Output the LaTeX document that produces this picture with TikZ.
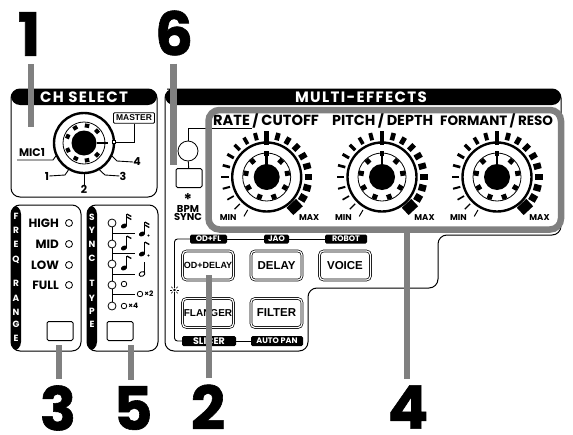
\documentclass[tikz,border=0pt]{standalone}
\usepackage{fontspec}
\setmainfont{Poppins}
\newfontfamily\narrowfont{Liberation Sans}
\newfontfamily\numfont[BoldFeatures={FakeBold=1}]{Poppins}
\usetikzlibrary{positioning}
\newcommand{\fs}[1]{\fontsize{#1}{#1}\selectfont\bfseries}
\newcommand{\narrowfs}[1]{\fontsize{#1}{#1}\selectfont\narrowfont\bfseries}
% x, y, number of flags
\newcommand{\flagnote}[3]{%
  \fill[rotate around={25:(#1,#2)}] (#1,#2) ellipse (3.2 and 2.3);
  \draw[line width=0.9pt] (#1+2.8,#2) -- (#1+2.8,#2-12);
  \foreach \fl in {1,...,#3} {\draw[line width=1.3pt] (#1+2.8,#2-15+3*\fl) -- ++(4.5,2.5);}
}
\tikzset{
  panel/.style={draw, line width=1pt, rounded corners=9pt, fill=white, inner sep=0pt},
  sidebar/.style={path picture={\fill[black] (path picture bounding box.north west) rectangle ([xshift=10pt]path picture bounding box.south west);}},
  topbar/.style={path picture={\fill[black] (path picture bounding box.north west) rectangle ([yshift=-16pt]path picture bounding box.north east);}},
  headtext/.style={text=white, font=\fs{15}\addfontfeature{LetterSpace=9}, inner sep=0pt},
  sidetext/.style={text=white, font=\fs{9}, inner sep=0pt},
  led/.style={draw, circle, line width=0.8pt, fill=white, minimum size=#1, inner sep=0pt},
  led/.default=7pt,
  pushbtn/.style={draw, line width=1pt, rounded corners=1.5pt, fill=white, minimum width=26pt, minimum height=19pt, inner sep=0pt},
  fxbtn/.style={draw, double, double distance=1.2pt, line width=0.7pt, rounded corners=4pt, fill=white, minimum width=51pt, minimum height=29pt, inner sep=0pt, font=\narrowfs{11.5}},
  tag/.style={fill=black, rounded corners=1.5pt, text=white, minimum height=9pt, inner sep=0pt, font=\fs{8}},
  rowtext/.style={inner sep=0pt, font=\fs{12}},
  chtext/.style={inner sep=0pt, font=\fs{11}},
  scaletext/.style={inner sep=0pt, font=\fs{8.5}},
  knobtext/.style={inner sep=0pt, font=\fs{#1}},
  ring/.style={draw, circle, line width=2.4pt, fill=white, minimum size=#1, inner sep=0pt},
  innerring/.style={draw, circle, line width=0.8pt, minimum size=#1, inner sep=0pt},
  hub/.style={fill=black, circle, minimum size=#1, inner sep=0pt},
  thin/.style={line width=0.9pt},
  callout/.style={draw=black!50, line width=6.5pt},
  numlabel/.style={inner sep=0pt, font=\fontsize{60}{60}\selectfont\numfont\bfseries}
}
\begin{document}
\begin{tikzpicture}[x=1pt, y=-1pt]
\useasboundingbox (0,0) rectangle (573,434);

% CH SELECT
\node[panel, topbar, minimum width=146pt, minimum height=108pt] (chpanel) at (84,143) {};
\node[headtext] (chhead) at (84,97) {CH SELECT};
\node[ring=60pt] (chknob) at (84,143) {};
\node[innerring=42pt] (chinner) at (84,143) {};
\foreach \a in {10,48,132,170,208,246,292,330}
  \draw[line width=4.5pt] (chknob.center) ++(90-\a:15.5pt) -- ++(90-\a:4pt);
\node[hub=25pt] (chhub) at (84,143) {};
\draw[line width=2.4pt] (chhub) -- (108,143);
\node[draw, fill=white, thin, minimum size=3.5pt, inner sep=0pt] (chtab) at (114,142) {};
\node[draw, thin, rounded corners=1pt, minimum width=41pt, minimum height=10.5pt, inner sep=0pt, font=\narrowfs{8.5}] (master) at (134,118) {MASTER};
\node[chtext] (mic) at (32,153) {MIC1};
\node[chtext] (ch1) at (47,176) {1};
\node[chtext] (ch2) at (84,189) {2};
\node[chtext] (ch3) at (123,176) {3};
\node[chtext] (ch4) at (137,162) {4};
\coordinate (micend) at (17,160);
\draw[thin] (master) |- (chtab);
\draw[thin] (micend) -- (53,160) -- (chknob.205);
\draw[thin] (ch1.east) -- (65,175) -- (chknob.240);
\draw[thin] (chknob.south) -- (ch2.north);
\draw[thin] (chknob.300) -- (105,175) -- (ch3.west);
\draw[thin] (chknob.335) -- (117,161) -- (ch4.west);

% FREQ RANGE
\node[panel, sidebar, minimum width=70pt, minimum height=146pt] (freqpanel) at (46,278) {};
\foreach \ch/\yy in {F/216,R/230,E/244,Q/260,R/283,A/298,N/312,G/324,E/338}
  \node[sidetext] (fr\yy) at (16,\yy) {\ch};
\foreach \nm/\yy in {HIGH/223,MID/244,LOW/265,FULL/285} {
  \node[led] (led\nm) at (69,\yy) {};
  \node[rowtext, left=6pt of led\nm] (txt\nm) {\nm};
}
\node[pushbtn] (freqbtn) at (60,331) {};

% SYNC TYPE
\node[panel, sidebar, minimum width=71pt, minimum height=146pt] (syncpanel) at (122.5,278) {};
\foreach \ch/\yy in {S/217,Y/230,N/244,C/258,T/283,Y/298,P/311,E/324}
  \node[sidetext] (sy\yy) at (92,\yy) {\ch};
\foreach \nm/\yy in {a/223,b/244,c/264,d/285,e/306}
  \node[led=8pt] (sled\nm) at (112,\yy) {};
\draw[thin] (sleda) -- (sledb) -- (sledc) -- (sledd) -- (slede);
\foreach \yy in {233,253,274,294} {
  \coordinate (st\yy) at (135,\yy);
  \draw[thin] (st\yy -| sleda) -- (st\yy);
}
\flagnote{124}{226}{2}
\flagnote{142}{234}{2}
\fill (148.5,235.5) circle (1.2);
\flagnote{124}{248}{1}
\flagnote{142}{254}{1}
\fill (148.5,255.5) circle (1.2);
\flagnote{124}{268}{1}
\draw[line width=0.9pt, rotate around={25:(142,274)}] (142,274) ellipse (3 and 2.2);
\draw[line width=0.9pt] (144.8,274) -- (144.8,262);
\node[led=5.5pt] (whole) at (124,284) {};
\node[led=5.5pt] (whole2) at (140,294) {};
\node[scaletext, right=1pt of whole2, font=\fs{7.5}] (timestwo) {×2};
\node[led=5.5pt] (whole4) at (124,306) {};
\node[scaletext, right=1pt of whole4, font=\fs{7.5}] (timesfour) {×4};
\node[pushbtn] (syncbtn) at (120,331) {};

% MULTI-EFFECTS
\path[draw, line width=1pt, rounded corners=9pt, fill=white, topbar]
  (176,89) -- (165,89) -- (165,351) -- (308,351) -- (308,288) -- (438,288) -- (438,235)
  -- (561,235) -- (561,89) -- cycle;
\node[headtext] (fxhead) at (361,97) {MULTI-EFFECTS};

\node[led=20pt] (bpmled) at (188,151) {};
\node[pushbtn] (bpmbtn) at (189,178) {};
\node[inner sep=0pt, font=\fs{16}] (bpmstar) at (188,196) {\raisebox{-9pt}[0pt][0pt]{*}};
\node[inner sep=0pt, align=center, font=\fs{10}] (bpmtxt) at (188,213) {BPM\\[-1.5pt]SYNC};
\coordinate (rateend) at (252,128);
\draw[thin] (bpmled) -- (bpmbtn);
\draw[thin] (bpmled.north) |- (rateend);

\node[knobtext=14.6, anchor=west] (rate) at (213,120) {RATE\,/\,CUTOFF};
\node[knobtext=14.4, anchor=west] (pitch) at (332,120) {PITCH\,/\,DEPTH};
\node[knobtext=13.5, anchor=west] (formant) at (440,120) {FORMANT\,/\,RESO};

\foreach \nm/\cx in {a/266.7,b/382,c/497} {
  \foreach \k in {-10,...,8}
    \draw[line width={1pt+(\k+10)*0.33pt}] (\cx,177) ++(90-\k*15:38pt) -- ++(90-\k*15:7.5pt);
  \draw[line width=13pt] (\cx,177) ++(-47:36pt) -- ++(-47:10pt);
  \node[ring=69pt] (knob\nm) at (\cx,177) {};
  \node[innerring=48pt] (inner\nm) at (\cx,177) {};
  \draw[line width=4.5pt] (knob\nm.center) ++(90:32pt) -- ++(90:14pt);
  \foreach \a in {42,80,120,160,200,240,280,318}
    \draw[line width=5pt] (knob\nm.center) ++(90-\a:18.5pt) -- ++(90-\a:5pt);
  \node[hub=26pt] (hub\nm) at (\cx,177) {};
  \draw[line width=2.6pt] (hub\nm.center) -- ++(90:24pt);
  \draw[line width=4.5pt] (hub\nm.center) ++(90:21pt) -- ++(90:5pt);
  \node[scaletext] (min\nm) at (\cx-38.5,218) {MIN};
  \node[scaletext] (max\nm) at (\cx+42.5,218) {MAX};
}

\node[tag, minimum width=37pt] (tagod) at (208.5,239) {OD+FL};
\node[tag, minimum width=25pt] (tagjao) at (276.5,239) {JAO};
\node[tag, minimum width=42pt] (tagrobot) at (346,239) {ROBOT};
\node[tag, minimum width=54pt, minimum height=10pt, font=\fs{9.5}] (tagslicer) at (209,341) {SLICER};
\node[tag, minimum width=52pt, minimum height=10pt] (tagpan) at (277,341) {AUTO PAN};
\node[minimum size=9pt, inner sep=0pt] (sun) at (174.5,290) {};
\fill (sun) circle (1.4);
\foreach \a in {0,45,...,315}
  \draw[line width=0.5pt] (sun.center) ++(\a:2.4pt) -- ++(\a:2.3pt);
\draw[thin, rounded corners=3pt] (sun.north) |- (tagod);
\draw[thin, rounded corners=3pt] (sun.south) |- (tagslicer);
\draw[thin] (tagod) -- (tagjao) -- (tagrobot);
\draw[thin] (tagslicer) -- (tagpan);

\node[fxbtn, font=\narrowfs{9}] (oddelay) at (208,265.5) {OD+DELAY};
\node[fxbtn] (delay) at (276.5,265.5) {DELAY};
\node[fxbtn] (voice) at (345,265.5) {VOICE};
\node[fxbtn, font=\narrowfs{10}] (flanger) at (208,313) {FLANGER};
\node[fxbtn] (filter) at (276.5,313) {FILTER};

% numbers and gray lines
\draw[black!50, line width=6.5pt, rounded corners=11pt] (208.5,110) rectangle (561,229.5);
\node[numlabel] (num1) at (29,34) {1};
\node[numlabel] (num6) at (174,33) {6};
\node[numlabel] (num3) at (58,408) {3};
\node[numlabel] (num5) at (133,408) {5};
\node[numlabel] (num2) at (208,407) {2};
\node[numlabel] (num4) at (408,407) {4};
\coordinate (end1) at (31,127);
\coordinate (end6) at (173.5,165);
\coordinate (end3) at (59,345);
\coordinate (end5) at (131,345);
\coordinate (end2) at (209,275);
\coordinate (end4) at (407,232);
\path[callout, shorten <=8pt] (end1 |- num1.south) -- (end1);
\path[callout, shorten <=8pt] (end6 |- num6.south) -- (end6);
\path[callout, shorten <=6pt] (end3 |- num3.north) -- (end3);
\path[callout, shorten <=6pt] (end5 |- num5.north) -- (end5);
\path[callout, shorten <=6pt] (end2 |- num2.north) -- (end2);
\path[callout, shorten <=6pt] (end4 |- num4.north) -- (end4);
\end{tikzpicture}
\end{document}
